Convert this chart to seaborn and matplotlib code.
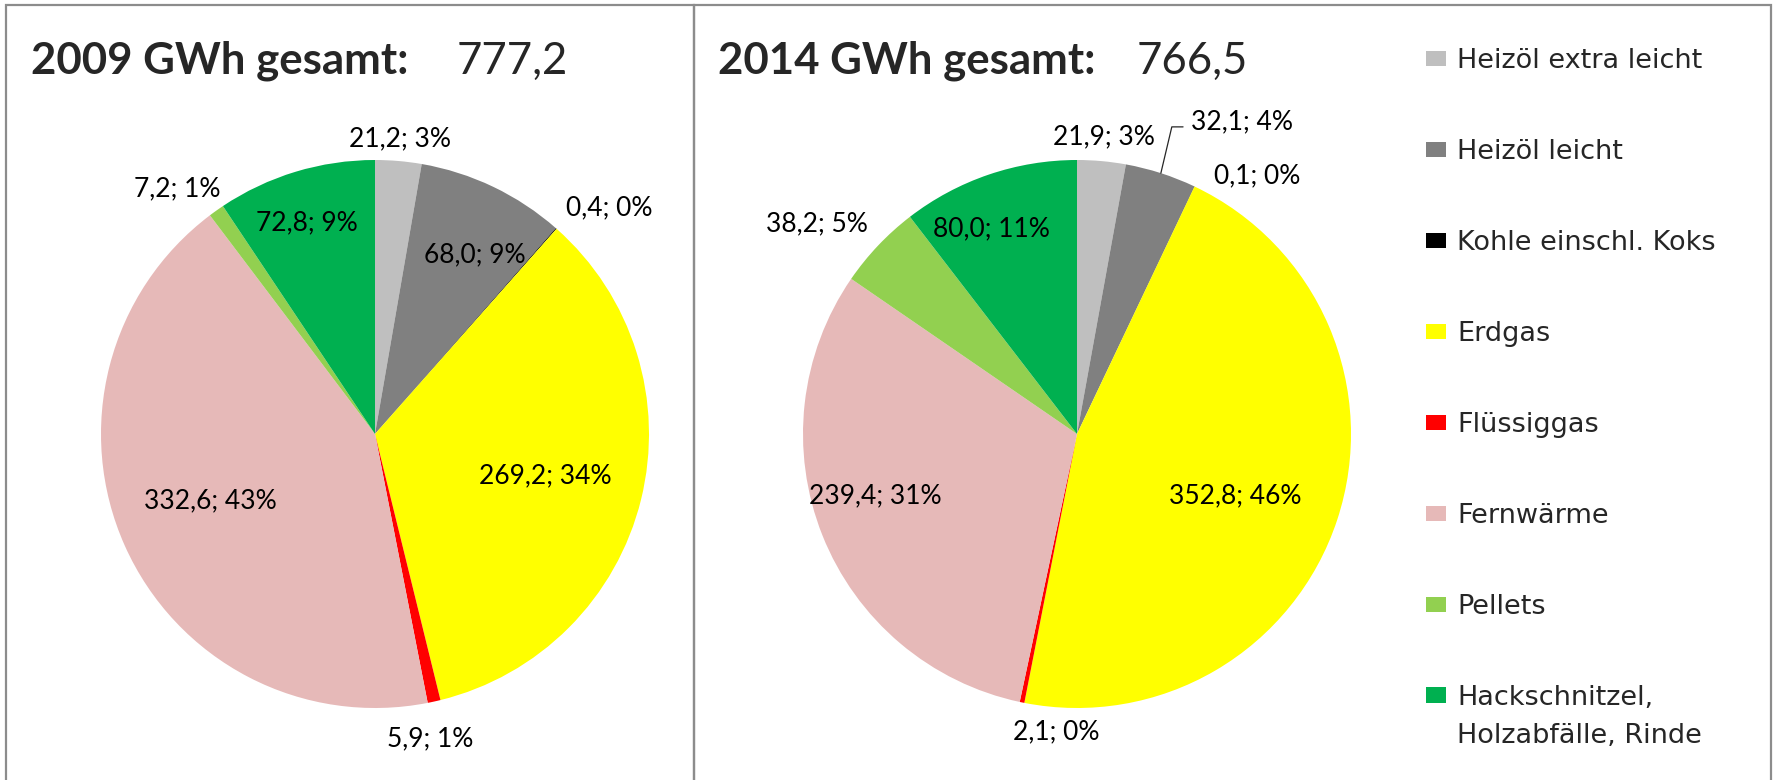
import numpy as np
import matplotlib.pyplot as plt
import seaborn as sns
from matplotlib.patches import Patch, Rectangle
from matplotlib.legend_handler import HandlerPatch

# Daten
kategorien = ["Heizöl extra leicht", "Heizöl leicht", "Kohle einschl. Koks", "Erdgas",
              "Flüssiggas", "Fernwärme", "Pellets", "Hackschnitzel,\nHolzabfälle, Rinde"]
werte_2009 = [21.2, 68.0, 0.4, 269.2, 5.9, 332.6, 7.2, 72.8]
werte_2014 = [21.9, 32.1, 0.1, 352.8, 2.1, 239.4, 38.2, 80.0]
prozent_2009 = [3, 9, 0, 34, 1, 43, 1, 9]
prozent_2014 = [3, 4, 0, 46, 0, 31, 5, 11]
gesamt_2009 = "777,2"
gesamt_2014 = "766,5"
farben = ["#BFBFBF", "#808080", "#000000", "#FFFF00", "#FF0000", "#E6B9B8", "#92D050", "#00B050"]

# Beschriftungs-Layout (Abstand in Radien, Winkelversatz in Grad)
lab_r_2009 = [1.08, 0.75, 1.19, 0.64, 1.13, 0.65, 1.15, 0.81]
lab_dw_2009 = [0, -3.5, -4.6, 0, -2.2, -2, 3.6, 1]
lab_r_2014 = [1.09, 1.29, 1.15, 0.62, 1.09, 0.77, 1.22, 0.81]
lab_dw_2014 = [0, -10, -9.6, -3, 7.6, -4.7, 4.5, 3.8]

sns.set_theme(style="white")
plt.rcParams['font.family'] = ['Lato', 'DejaVu Sans']

W, H = 1777, 780
fig = plt.figure(figsize=(W / 100, H / 100), dpi=100)
fig.patch.set_facecolor("white")

R = 274  # Radius in Pixel
LIM = 1.35


def pie_axes(cx, cy):
    size = 2 * LIM * R
    return fig.add_axes([(cx - size / 2) / W, (H - cy - size / 2) / H, size / W, size / H])


def zeichne(ax, werte, prozent, lab_r, lab_dw, leader=None):
    ax.pie(werte, colors=farben, startangle=90, counterclock=False, radius=1,
           wedgeprops=dict(linewidth=0))
    ax.set_xlim(-LIM, LIM)
    ax.set_ylim(-LIM, LIM)
    ax.set_aspect("equal")
    ax.axis("off")
    summe = sum(werte)
    kum = np.cumsum([0] + werte)
    for i, v in enumerate(werte):
        mitte = 90 - (kum[i] + v / 2) / summe * 360
        w = np.deg2rad(mitte + lab_dw[i])
        x, y = lab_r[i] * np.cos(w), lab_r[i] * np.sin(w)
        txt = f"{v:.1f}".replace(".", ",") + f"; {prozent[i]}%"
        ax.text(x, y, txt, ha="center", va="center", fontsize=19, color="black")
        if leader == i:
            # Führungslinie vom Segmentrand zur Beschriftung
            wm = np.deg2rad(mitte)
            ex, ey = np.cos(wm), np.sin(wm)
            ax.plot([ex, ex + 0.04, x - 0.215], [ey, y - 0.02, y - 0.02],
                    color="#262626", lw=0.9)


ax1 = pie_axes(375, 434)
zeichne(ax1, werte_2009, prozent_2009, lab_r_2009, lab_dw_2009)
ax2 = pie_axes(1077, 434)
zeichne(ax2, werte_2014, prozent_2014, lab_r_2014, lab_dw_2014, leader=1)

# Titel
ty = 1 - 61 / H
fig.text(31 / W, ty, "2009 GWh gesamt:", fontsize=31.5, fontweight="bold", va="center")
fig.text(457 / W, ty, gesamt_2009, fontsize=31.5, va="center")
fig.text(718 / W, ty, "2014 GWh gesamt:", fontsize=31.5, fontweight="bold", va="center")
fig.text(1137 / W, ty, gesamt_2014, fontsize=31.5, va="center")

# Rahmen
for x0, x1 in [(6, 694), (694, 1771)]:
    fig.add_artist(Rectangle((x0 / W, -0.05), (x1 - x0) / W, 1.05 - 5 / H,
                             transform=fig.transFigure, fill=False,
                             edgecolor="#8c8c8c", linewidth=1.6))


# Legende: Marker des zweizeiligen Eintrags an der ersten Zeile
def oben_patch(legend, orig_handle, xdescent, ydescent, width, height, fontsize):
    return Rectangle((-xdescent, -ydescent + 0.82 * fontsize), width, height)


handles = [Patch(facecolor=c, edgecolor="none") for c in farben]
leg = fig.legend(handles, kategorien, loc="upper left", bbox_to_anchor=(1426 / W, 1 - 48 / H),
                 frameon=False, prop=dict(family="DejaVu Sans", size=19.5),
                 handlelength=0.75, handleheight=0.52, handletextpad=0.4,
                 labelspacing=2.4, borderpad=0, borderaxespad=0,
                 handler_map={handles[-1]: HandlerPatch(patch_func=oben_patch)})
leg.get_texts()[-1].set_linespacing(1.6)

fig.savefig("out.png", dpi=100, facecolor="white")
